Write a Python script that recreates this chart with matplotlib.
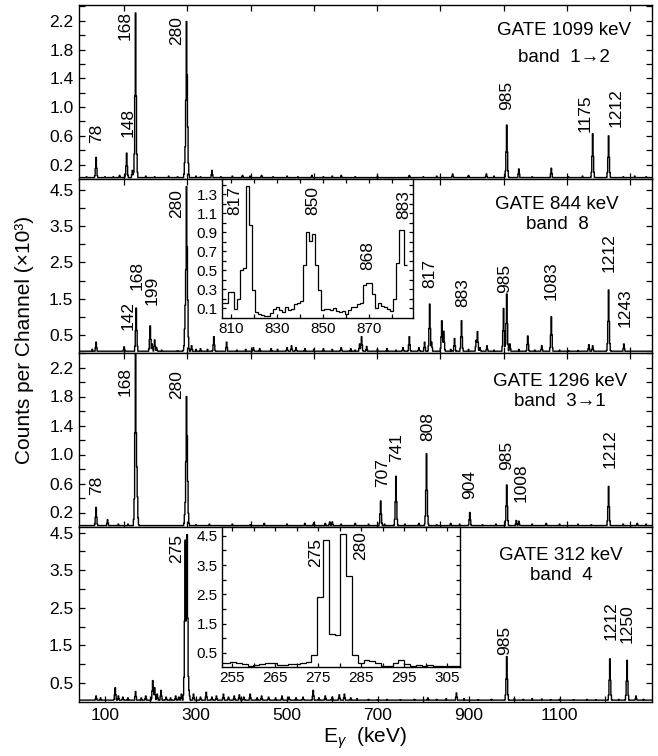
import numpy as np
import matplotlib
matplotlib.use("Agg")
import matplotlib.pyplot as plt

plt.rcParams['font.family'] = ['Liberation Sans', 'DejaVu Sans']
plt.rcParams['mathtext.fontset'] = 'custom'
plt.rcParams['mathtext.rm'] = 'Liberation Sans'
plt.rcParams['mathtext.it'] = 'Liberation Sans:italic'

# ---------------------------------------------------------------- data
# gamma-ray peaks per gated spectrum: (energy keV, counts x10^3)
gate1099_peaks = [
    (60, 0.03), (80, 0.30), (100, 0.03), (118, 0.03), (133, 0.05), (145, 0.06),
    (148, 0.36), (160, 0.12), (168, 2.31), (190, 0.04), (210, 0.03), (240, 0.04),
    (260, 0.03), (277, 0.45), (279.5, 2.19), (281.5, 1.45), (300, 0.04), (310, 0.03),
    (335, 0.12), (355, 0.03), (380, 0.04), (402, 0.05), (420, 0.04), (445, 0.05),
    (470, 0.03), (500, 0.04), (525, 0.03), (555, 0.05), (580, 0.03), (600, 0.04),
    (620, 0.05), (650, 0.03), (700, 0.04), (770, 0.05), (800, 0.03), (830, 0.04),
    (865, 0.07), (900, 0.05), (939, 0.07), (955, 0.04), (983, 0.75), (1010, 0.14),
    (1040, 0.03), (1082, 0.15), (1120, 0.03), (1150, 0.04), (1173, 0.63),
    (1208, 0.60), (1240, 0.03), (1265, 0.04), (1290, 0.03),
]
gate844_peaks = [
    (72, 0.10), (80, 0.30), (120, 0.05), (142, 0.17), (168.5, 1.24), (199, 0.75),
    (204, 0.25), (209, 0.36), (214, 0.15), (225, 0.08), (260, 0.06), (274, 0.15),
    (277, 1.32), (280, 4.59), (281.5, 2.93), (290, 0.20), (300, 0.10), (310, 0.12),
    (325, 0.10), (340, 0.45), (367.5, 0.30), (390, 0.08), (410, 0.10), (426, 0.15),
    (440, 0.12), (466, 0.12), (480, 0.10), (500, 0.15), (510, 0.20), (520, 0.15),
    (540, 0.12), (560, 0.10), (580, 0.12), (600, 0.10), (620, 0.15), (640, 0.12),
    (650, 0.08), (660, 0.25), (664, 0.45), (675, 0.18), (700, 0.10), (720, 0.12),
    (740, 0.08), (755, 0.15), (770, 0.45), (790, 0.15), (803, 0.30), (814, 1.35),
    (818, 0.30), (841, 0.89), (845, 0.60), (860, 0.10), (869, 0.40), (884.6, 0.89),
    (900, 0.10), (916, 0.35), (919, 0.59), (925, 0.15), (940, 0.20), (955, 0.08),
    (977, 1.23), (983, 1.63), (990, 0.25), (1010, 0.10), (1030, 0.47), (1045, 0.08),
    (1060, 0.20), (1082, 1.00), (1100, 0.08), (1120, 0.06), (1140, 0.07),
    (1164, 0.23), (1173, 0.20), (1190, 0.05), (1208, 1.74), (1225, 0.05),
    (1241, 0.25), (1260, 0.04), (1280, 0.03),
]
gate1296_peaks = [
    (80, 0.27), (106, 0.10), (130, 0.04), (150, 0.04), (168, 2.60), (170, 0.83),
    (277, 0.34), (280, 1.80), (281.5, 1.26), (300, 0.03), (330, 0.04), (380, 0.04),
    (420, 0.03), (450, 0.05), (500, 0.04), (540, 0.05), (560, 0.06), (585, 0.05),
    (595, 0.07), (600, 0.07), (620, 0.04), (650, 0.05), (680, 0.04), (706.6, 0.36),
    (715, 0.04), (739.6, 0.70), (760, 0.04), (790, 0.05), (807, 1.01), (830, 0.03),
    (860, 0.05), (880, 0.04), (902, 0.20), (930, 0.03), (960, 0.04), (983, 0.58),
    (1005, 0.09), (1010, 0.08), (1040, 0.04), (1070, 0.05), (1100, 0.04),
    (1140, 0.04), (1170, 0.03), (1208, 0.56), (1240, 0.04), (1270, 0.05), (1290, 0.04),
]
gate312_peaks = [
    (80, 0.15), (90, 0.10), (122, 0.37), (130, 0.15), (140, 0.12), (150, 0.10),
    (167.5, 0.27), (180, 0.10), (190, 0.15), (205, 0.56), (210, 0.37), (215, 0.20),
    (223, 0.30), (235, 0.12), (245, 0.10), (255, 0.15), (262, 0.12), (268, 0.20),
    (276, 4.30), (280.5, 4.45), (285, 0.30), (295, 0.20), (310, 0.12), (323, 0.25),
    (335, 0.12), (345, 0.15), (360, 0.20), (372, 0.12), (385, 0.15), (395, 0.18),
    (405, 0.12), (420, 0.20), (435, 0.10), (445, 0.15), (460, 0.12), (475, 0.10),
    (490, 0.15), (505, 0.12), (520, 0.10), (535, 0.12), (558, 0.30), (570, 0.10),
    (585, 0.15), (600, 0.12), (615, 0.18), (627, 0.20), (640, 0.10), (655, 0.08),
    (680, 0.06), (700, 0.05), (720, 0.06), (750, 0.05), (780, 0.06), (810, 0.10),
    (830, 0.06), (850, 0.08), (873, 0.23), (890, 0.08), (920, 0.05), (950, 0.06),
    (983, 1.20), (1000, 0.08), (1020, 0.06), (1040, 0.08), (1060, 0.07),
    (1080, 0.05), (1100, 0.06), (1130, 0.05), (1160, 0.06), (1180, 0.05),
    (1210, 1.14), (1230, 0.06), (1248, 1.10), (1268, 0.15), (1285, 0.06),
]
backgrounds = [0.02, 0.05, 0.02, 0.04]

# peak labels: (text, energy, label base height)
gate1099_labels = [("78", 82, 0.50), ("148", 150.5, 0.59), ("168", 144, 1.94),
                   ("280", 258, 1.87), ("985", 983.5, 0.96), ("1175", 1155, 0.66),
                   ("1212", 1225, 0.73)]
gate844_labels = [("142", 150.5, 0.63), ("168", 170, 1.74), ("199", 203, 1.32),
                  ("280", 258, 3.72), ("817", 814, 1.79), ("883", 887, 1.27),
                  ("985", 979, 1.66), ("1083", 1082, 1.46), ("1212", 1208, 2.23),
                  ("1243", 1243, 0.72)]
gate1296_labels = [("78", 82, 0.44), ("168", 144, 1.80), ("280", 258, 1.77),
                   ("707", 711, 0.55), ("741", 742, 0.89), ("808", 810, 1.19),
                   ("904", 902, 0.38), ("985", 983.5, 0.78), ("1008", 1016, 0.35),
                   ("1212", 1210, 0.81)]
gate312_labels = [("275", 258, 3.70), ("985", 979, 1.25), ("1212", 1214, 1.65),
                  ("1250", 1249, 1.57)]

gate_titles = ["GATE 1099 keV", "GATE 844 keV", "GATE 1296 keV", "GATE 312 keV"]
band_titles = ["band  1\u21922", "band  8", "band  3\u21921", "band  4"]

# zoomed histogram of the 844 keV gate (counts x10^3 per bin)
zoom844_start, zoom844_width = 806.0, 1.3
zoom844_counts = [0.15, 0.15, 0.27, 0.27, 0.09, 0.20, 0.50, 0.52, 1.39, 0.97,
                  0.29, 0.06, 0.04, 0.03, 0.02, 0.02, 0.05, 0.09, 0.11, 0.08,
                  0.06, 0.11, 0.08, 0.09, 0.14, 0.15, 0.17, 0.55, 0.90, 0.81,
                  0.88, 0.55, 0.29, 0.08, 0.09, 0.09, 0.08, 0.10, 0.07, 0.06,
                  0.07, 0.04, 0.08, 0.11, 0.11, 0.14, 0.15, 0.34, 0.36, 0.36,
                  0.25, 0.10, 0.15, 0.12, 0.11, 0.09, 0.07, 0.20, 0.57, 0.92,
                  0.92, 0.55]
zoom844_labels = [("817", 811.7, 1.08), ("850", 845.6, 1.08), ("868", 869.5, 0.50),
                  ("883", 884.8, 1.04)]

# zoomed histogram of the 312 keV gate
zoom312_start, zoom312_width = 251.8, 1.35
zoom312_counts = [0.15, 0.17, 0.19, 0.17, 0.12, 0.06, 0.08, 0.12, 0.14, 0.15,
                  0.10, 0.08, 0.12, 0.13, 0.16, 0.20, 0.42, 2.42, 4.35, 1.14,
                  1.10, 4.55, 3.13, 0.42, 0.14, 0.25, 0.24, 0.14, 0.06, 0.06,
                  0.14, 0.25, 0.12, 0.06, 0.08, 0.05, 0.08, 0.05, 0.04, 0.04,
                  0.04, 0.04]
zoom312_labels = [("275", 274.3, 3.44), ("280", 284.8, 3.67)]

# ---------------------------------------------------------------- helpers
E_MIN, E_MAX, CHANNEL = 40.0, 1310.0, 1.4
KERNEL = [0.04, 0.15, 0.5, 1.0, 0.5, 0.15, 0.04]


def spectrum(peaks, base):
    energy = np.arange(E_MIN, E_MAX, CHANNEL)
    counts = np.full(energy.size, base)
    for pe, ph in peaks:
        c = int(round((pe - E_MIN) / CHANNEL))
        for k, f in zip(range(-3, 4), KERNEL):
            if 0 <= c + k < energy.size:
                counts[c + k] = max(counts[c + k], ph * f)
    return energy, counts


def style_axis(ax, size=12):
    ax.tick_params(which='both', direction='in', top=True, right=True,
                   length=4, width=0.9, labelsize=size, pad=4)
    for s in ax.spines.values():
        s.set_linewidth(1.0)


W, H = 658, 756
fig = plt.figure(figsize=(W / 100, H / 100), dpi=100)

left, right = 79 / W, 652 / W
panel_px = [(5, 179), (179, 353), (353, 527), (527, 702)]
ylims = [(0, 2.42), (0, 4.8), (0, 2.37), (-0.01, 4.65)]
ymajor = [np.arange(0.2, 2.3, 0.4), np.arange(0.5, 4.6, 1.0),
          np.arange(0.2, 2.3, 0.4), np.arange(0.5, 4.6, 1.0)]
yminor = [np.arange(0.4, 2.5, 0.4), np.arange(1.0, 4.9, 1.0),
          np.arange(0.4, 2.5, 0.4), np.arange(1.0, 4.9, 1.0)]
all_peaks = [gate1099_peaks, gate844_peaks, gate1296_peaks, gate312_peaks]
all_labels = [gate1099_labels, gate844_labels, gate1296_labels, gate312_labels]
gate_pos = [(0.846, 0.851, 0.701), (0.834, 0.851, 0.736),
            (0.839, 0.839, 0.724), (0.841, 0.840, 0.720)]
panel_ticks = [141.8, 281.0, 420.2, 559.4, 698.6, 837.8, 977.0, 1116.2, 1255.4]

axes = []
for i, (top, bot) in enumerate(panel_px):
    ax = fig.add_axes([left, 1 - bot / H, right - left, (bot - top) / H])
    e, c = spectrum(all_peaks[i], backgrounds[i])
    ax.step(e, c, where='mid', color='black', lw=1.0)
    ax.set_xlim(43, 1303)
    ax.set_ylim(*ylims[i])
    ax.set_yticks(ymajor[i])
    ax.set_yticks(yminor[i], minor=True)
    ax.set_yticklabels([f"{v:.1f}" for v in ymajor[i]])
    style_axis(ax, size=12.5)
    if i < 3:
        ax.set_xticks(panel_ticks)
        ax.set_xticklabels([])
    else:
        ax.set_xticks(np.arange(100, 1101, 200))
        ax.set_xticks(np.arange(200, 1301, 200), minor=True)
        ax.tick_params(which='both', top=False)
    for txt, x, y in all_labels[i]:
        ax.text(x, y, txt, rotation=90, ha='center', va='bottom', fontsize=12.5)
    gx, gy1, gy2 = gate_pos[i]
    ax.text(gx, gy1, gate_titles[i], transform=ax.transAxes, ha='center',
            va='center', fontsize=13.5)
    ax.text(gx, gy2, band_titles[i], transform=ax.transAxes, ha='center',
            va='center', fontsize=13.5)
    axes.append(ax)

axes[3].set_xlabel(r'E$_{\gamma}$  (keV)', fontsize=15, labelpad=2)
fig.text(25 / W, 1 - 340 / H, 'Counts per Channel (\u00d710\u00b3)', rotation=90,
         ha='center', va='center', fontsize=15)

# inset: 844 keV gate around 810-885 keV
ins1 = fig.add_axes([222 / W, 1 - 318 / H, (413 - 222) / W, (318 - 179) / H])
edges1 = zoom844_start + zoom844_width * np.arange(len(zoom844_counts) + 1)
ins1.stairs(zoom844_counts, edges1, baseline=None, color='black', lw=0.9)
ins1.set_xlim(806, 889)
ins1.set_ylim(-0.005, 1.46)
ins1.set_xticks([810, 830, 850, 870])
ins1.set_xticks([820, 840, 860, 880], minor=True)
ins1.set_yticks(np.arange(0.1, 1.35, 0.2))
ins1.set_yticks(np.arange(0.2, 1.45, 0.2), minor=True)
ins1.set_yticklabels([f"{v:.1f}" for v in np.arange(0.1, 1.35, 0.2)])
style_axis(ins1, size=11)
ins1.tick_params(which='both', length=3, pad=3)
for txt, x, y in zoom844_labels:
    ins1.text(x, y, txt, rotation=90, ha='center', va='bottom', fontsize=12.5)

# inset: 312 keV gate around the 275/280 keV doublet
ins2 = fig.add_axes([222 / W, 1 - 667 / H, (460 - 222) / W, (667 - 527) / H])
edges2 = zoom312_start + zoom312_width * np.arange(len(zoom312_counts) + 1)
ins2.stairs(zoom312_counts, edges2, baseline=None, color='black', lw=0.9)
ins2.set_xlim(252.6, 308)
ins2.set_ylim(0.02, 4.8)
ins2.set_xticks(np.arange(255, 306, 10))
ins2.set_xticks(np.arange(260, 301, 10), minor=True)
ins2.set_yticks(np.arange(0.5, 4.6, 1.0))
ins2.set_yticks(np.arange(1.0, 4.9, 1.0), minor=True)
ins2.set_yticklabels([f"{v:.1f}" for v in np.arange(0.5, 4.6, 1.0)])
style_axis(ins2, size=11)
ins2.tick_params(which='both', length=3, pad=3)
for txt, x, y in zoom312_labels:
    ins2.text(x, y, txt, rotation=90, ha='center', va='bottom', fontsize=12.5)

fig.savefig('out.png', dpi=100)
